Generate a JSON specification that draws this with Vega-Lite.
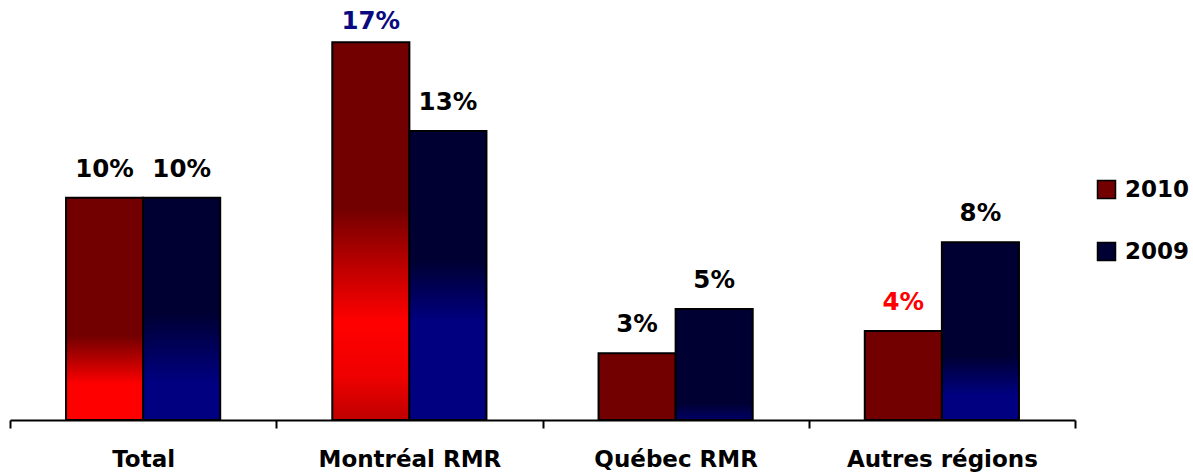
{
  "$schema": "https://vega.github.io/schema/vega-lite/v6.json",
  "autosize": "none",
  "padding": {"left": 10, "top": 0, "right": 118, "bottom": 54},
  "width": 1065,
  "height": 420,
  "background": "white",
  "config": {
    "view": {"stroke": null},
    "font": "DejaVu Sans",
    "axis": {"labelFont": "DejaVu Sans"},
    "legend": {"labelFont": "DejaVu Sans"}
  },
  "data": {
    "values": [
      {"region": "Total", "year": "2010", "value": 0.10},
      {"region": "Total", "year": "2009", "value": 0.10},
      {"region": "Montréal RMR", "year": "2010", "value": 0.17},
      {"region": "Montréal RMR", "year": "2009", "value": 0.13},
      {"region": "Québec RMR", "year": "2010", "value": 0.03},
      {"region": "Québec RMR", "year": "2009", "value": 0.05},
      {"region": "Autres régions", "year": "2010", "value": 0.04},
      {"region": "Autres régions", "year": "2009", "value": 0.08}
    ]
  },
  "encoding": {
    "x": {
      "field": "region",
      "type": "nominal",
      "sort": ["Total", "Montréal RMR", "Québec RMR", "Autres régions"],
      "scale": {"paddingInner": 0, "paddingOuter": 0},
      "axis": {
        "title": null,
        "labelAngle": 0,
        "labelFontSize": 23,
        "labelFontWeight": "bold",
        "labelColor": "black",
        "labelPadding": 20,
        "labelLimit": 0,
        "domainColor": "black",
        "domainWidth": 2,
        "tickColor": "black",
        "tickWidth": 2,
        "tickSize": 8,
        "tickBand": "extent"
      }
    },
    "xOffset": {
      "field": "year",
      "type": "nominal",
      "sort": ["2010", "2009"],
      "scale": {"paddingInner": 0, "paddingOuter": 0.727}
    },
    "y": {
      "field": "value",
      "type": "quantitative",
      "scale": {"domain": [0, 0.189], "nice": false, "zero": true},
      "axis": null
    }
  },
  "layer": [
    {
      "mark": {"type": "bar", "stroke": "black", "strokeWidth": 2},
      "encoding": {
        "fill": {
          "field": "year",
          "type": "nominal",
          "sort": ["2010", "2009"],
          "scale": {"domain": ["2010", "2009"], "range": ["#720000", "#000033"]},
          "legend": {
            "title": null,
            "orient": "none",
            "legendX": 1085,
            "legendY": 178,
            "symbolType": "square",
            "symbolSize": 324,
            "symbolStrokeColor": "black",
            "symbolStrokeWidth": 1.5,
            "labelFontSize": 23,
            "labelFontWeight": "bold",
            "labelColor": "black",
            "labelOffset": 7,
            "rowPadding": 37
          },
          "condition": [
            {"test": "datum.region === 'Total' && datum.year === '2010'",
             "value": {"gradient": "linear", "x1": 0, "y1": 0, "x2": 0, "y2": 1,
               "stops": [{"offset": 0, "color": "#720000"}, {"offset": 0.62, "color": "#720000"}, {"offset": 0.72, "color": "#B00000"}, {"offset": 0.84, "color": "#FF0000"}, {"offset": 1, "color": "#FF0000"}]}},
            {"test": "datum.region === 'Total' && datum.year === '2009'",
             "value": {"gradient": "linear", "x1": 0, "y1": 0, "x2": 0, "y2": 1,
               "stops": [{"offset": 0, "color": "#000033"}, {"offset": 0.52, "color": "#000033"}, {"offset": 0.83, "color": "#000080"}, {"offset": 1, "color": "#000080"}]}},
            {"test": "datum.region === 'Montréal RMR' && datum.year === '2010'",
             "value": {"gradient": "linear", "x1": 0, "y1": 0, "x2": 0, "y2": 1,
               "stops": [{"offset": 0, "color": "#720000"}, {"offset": 0.44, "color": "#720000"}, {"offset": 0.6, "color": "#C00000"}, {"offset": 0.74, "color": "#FF0000"}, {"offset": 0.88, "color": "#F00000"}, {"offset": 1, "color": "#C00000"}]}},
            {"test": "datum.region === 'Montréal RMR' && datum.year === '2009'",
             "value": {"gradient": "linear", "x1": 0, "y1": 0, "x2": 0, "y2": 1,
               "stops": [{"offset": 0, "color": "#000033"}, {"offset": 0.45, "color": "#000033"}, {"offset": 0.66, "color": "#000080"}, {"offset": 1, "color": "#000080"}]}},
            {"test": "datum.region === 'Québec RMR' && datum.year === '2009'",
             "value": {"gradient": "linear", "x1": 0, "y1": 0, "x2": 0, "y2": 1,
               "stops": [{"offset": 0, "color": "#000033"}, {"offset": 0.85, "color": "#000033"}, {"offset": 1, "color": "#000066"}]}},
            {"test": "datum.region === 'Autres régions' && datum.year === '2009'",
             "value": {"gradient": "linear", "x1": 0, "y1": 0, "x2": 0, "y2": 1,
               "stops": [{"offset": 0, "color": "#000033"}, {"offset": 0.64, "color": "#000033"}, {"offset": 0.86, "color": "#000080"}, {"offset": 1, "color": "#000080"}]}}
          ]
        }
      }
    },
    {
      "transform": [{"filter": "!(datum.region === 'Montréal RMR' && datum.year === '2010')"}],
      "mark": {"type": "text", "baseline": "bottom", "dy": -16, "fontSize": 24.5, "fontWeight": "bold", "font": "DejaVu Sans"},
      "encoding": {
        "text": {"field": "value", "type": "quantitative", "format": ".0%"},
        "color": {
          "condition": {"test": "datum.region === 'Autres régions' && datum.year === '2010'", "value": "#FF0000"},
          "value": "black"
        }
      }
    },
    {
      "transform": [{"filter": "datum.region === 'Montréal RMR' && datum.year === '2010'"}],
      "mark": {"type": "text", "baseline": "bottom", "dy": -8, "fontSize": 24.5, "fontWeight": "bold", "font": "DejaVu Sans", "color": "#0A0A80"},
      "encoding": {
        "text": {"field": "value", "type": "quantitative", "format": ".0%"}
      }
    }
  ]
}
